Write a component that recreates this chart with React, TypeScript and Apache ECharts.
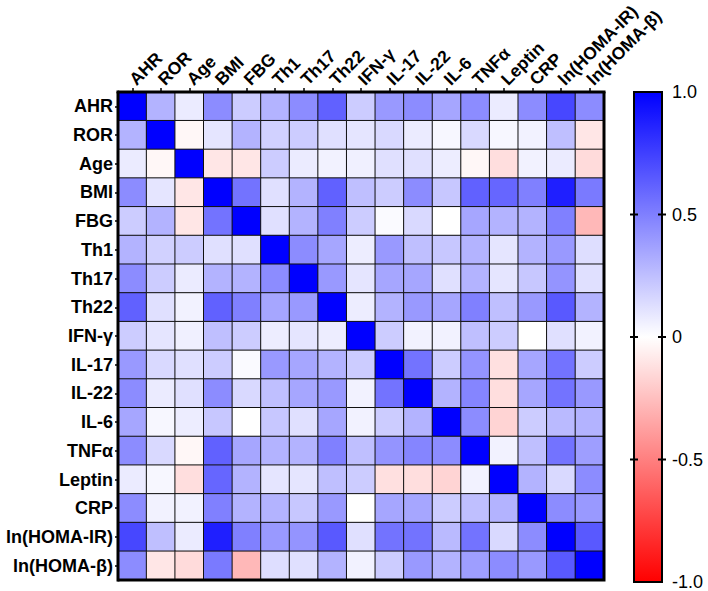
import React, { useEffect, useRef } from "react";
import * as echarts from "echarts";

const labels = [
  "AHR", "ROR", "Age", "BMI", "FBG", "Th1", "Th17", "Th22", "IFN-γ",
  "IL-17", "IL-22", "IL-6", "TNFα", "Leptin", "CRP", "ln(HOMA-IR)", "ln(HOMA-β)",
];

// correlation matrix, rows follow labels order
const rowAHR = [1, 0.30, 0.08, 0.45, 0.20, 0.30, 0.45, 0.62, 0.20, 0.40, 0.45, 0.35, 0.45, 0.08, 0.45, 0.72, 0.45];
const rowROR = [0.30, 1, -0.03, 0.10, 0.30, 0.18, 0.20, 0.12, 0.10, 0.15, 0.08, 0.03, 0.15, 0.03, 0.05, 0.25, -0.10];
const rowAge = [0.08, -0.03, 1, -0.10, -0.10, 0.20, 0.08, 0.05, 0.06, 0.12, 0.12, 0.07, -0.03, -0.13, 0.05, 0.08, -0.14];
const rowBMI = [0.45, 0.10, -0.10, 1, 0.55, 0.12, 0.30, 0.62, 0.25, 0.20, 0.45, 0.22, 0.62, 0.60, 0.50, 0.88, 0.52];
const rowFBG = [0.20, 0.30, -0.10, 0.55, 1, 0.12, 0.30, 0.50, 0.20, 0.02, 0.15, 0.00, 0.35, 0.30, 0.30, 0.50, -0.28];
const rowTh1 = [0.30, 0.18, 0.20, 0.12, 0.12, 1, 0.45, 0.35, 0.07, 0.40, 0.25, 0.22, 0.30, 0.10, 0.30, 0.40, 0.13];
const rowTh17 = [0.45, 0.20, 0.08, 0.30, 0.30, 0.45, 1, 0.40, 0.10, 0.35, 0.35, 0.12, 0.30, 0.10, 0.22, 0.42, 0.12];
const rowTh22 = [0.62, 0.12, 0.05, 0.62, 0.50, 0.35, 0.40, 1, 0.07, 0.30, 0.40, 0.35, 0.50, 0.25, 0.40, 0.65, 0.30];
const rowIFN = [0.20, 0.10, 0.06, 0.25, 0.20, 0.07, 0.10, 0.07, 1, 0.20, 0.05, 0.05, 0.25, 0.20, 0.00, 0.12, 0.05];
const rowIL17 = [0.40, 0.15, 0.12, 0.20, 0.02, 0.40, 0.35, 0.30, 0.20, 1, 0.55, 0.20, 0.42, -0.12, 0.35, 0.55, 0.20];
const rowIL22 = [0.45, 0.08, 0.12, 0.45, 0.15, 0.25, 0.35, 0.40, 0.05, 0.55, 1, 0.30, 0.48, -0.13, 0.35, 0.55, 0.40];
const rowIL6 = [0.35, 0.03, 0.07, 0.22, 0.00, 0.22, 0.12, 0.35, 0.05, 0.20, 0.30, 1, 0.45, -0.17, 0.20, 0.27, 0.30];
const rowTNF = [0.45, 0.15, -0.03, 0.62, 0.35, 0.30, 0.30, 0.50, 0.25, 0.42, 0.48, 0.45, 1, 0.05, 0.25, 0.55, 0.38];
const rowLeptin = [0.08, 0.03, -0.13, 0.60, 0.30, 0.10, 0.10, 0.25, 0.20, -0.12, -0.13, -0.17, 0.05, 1, 0.30, 0.15, 0.45];
const rowCRP = [0.45, 0.05, 0.05, 0.50, 0.30, 0.30, 0.22, 0.40, 0.00, 0.35, 0.35, 0.20, 0.25, 0.30, 1, 0.45, 0.40];
const rowIR = [0.72, 0.25, 0.08, 0.88, 0.50, 0.40, 0.42, 0.65, 0.12, 0.55, 0.55, 0.27, 0.55, 0.15, 0.45, 1, 0.65];
const rowBeta = [0.45, -0.10, -0.14, 0.52, -0.28, 0.13, 0.12, 0.30, 0.05, 0.20, 0.40, 0.30, 0.38, 0.45, 0.40, 0.65, 1];

const corr = [
  rowAHR, rowROR, rowAge, rowBMI, rowFBG, rowTh1, rowTh17, rowTh22, rowIFN,
  rowIL17, rowIL22, rowIL6, rowTNF, rowLeptin, rowCRP, rowIR, rowBeta,
];

const scaleTicks = [-1, -0.5, 0, 0.5, 1];
const innerTicks = [-0.5, 0, 0.5];

const FONT = "Liberation Sans, Arial, sans-serif";

export default function App() {
  const ref = useRef<HTMLDivElement>(null);
  useEffect(() => {
    if (!ref.current) return;
    const chart = echarts.init(ref.current, undefined, { renderer: "svg" });
    const data: [number, number, number][] = [];
    corr.forEach((row, i) => row.forEach((v, j) => data.push([j, i, v])));

    const GL = 118, GT = 92, GW = 486, GH = 488;
    const CL = 634, CW = 28, CT = 92, CH = 490;

    const gradient = new echarts.graphic.LinearGradient(0, 0, 0, 1, [
      { offset: 0, color: "#0000ff" },
      { offset: 0.5, color: "#ffffff" },
      { offset: 1, color: "#ff0000" },
    ]);

    chart.setOption({
      animation: false,
      backgroundColor: "#fff",
      grid: [
        { left: GL, top: GT, width: GW, height: GH, containLabel: false, outerBoundsMode: "none" },
        { left: CL, top: CT, width: CW, height: CH, containLabel: false, outerBoundsMode: "none" },
      ],
      xAxis: [
        {
          gridIndex: 0,
          type: "category",
          data: labels,
          position: "top",
          axisLine: { show: true, lineStyle: { color: "#000", width: 3 } },
          axisTick: { show: true, alignWithLabel: true, length: 4, lineStyle: { color: "#000", width: 1.5 } },
          axisLabel: {
            interval: 0, rotate: -45, margin: 10, color: "#000",
            fontFamily: FONT, fontWeight: "bold", fontSize: 17.5,
          },
          splitLine: { show: false },
        },
        {
          gridIndex: 1, type: "value", min: 0, max: 1, position: "bottom",
          axisLine: { show: false }, axisTick: { show: false }, axisLabel: { show: false }, splitLine: { show: false },
        },
      ],
      yAxis: [
        {
          gridIndex: 0,
          type: "category",
          data: labels,
          inverse: true,
          axisLine: { show: true, lineStyle: { color: "#000", width: 3 } },
          axisTick: { show: true, alignWithLabel: true, length: 3, lineStyle: { color: "#000", width: 1.5 } },
          axisLabel: {
            interval: 0, margin: 5, color: "#000",
            fontFamily: FONT, fontWeight: "bold", fontSize: 18,
          },
          splitLine: { show: false },
        },
        {
          gridIndex: 1,
          type: "value",
          min: -1,
          max: 1,
          interval: 0.5,
          position: "right",
          axisLine: { show: false },
          splitLine: { show: false },
          axisTick: { show: false },
          axisLabel: {
            show: true, margin: 10, color: "#000", fontFamily: FONT, fontSize: 18,
            customValues: scaleTicks,
            formatter: (v: number) => (v === 0 ? "0" : v.toFixed(1)),
          },
        },
      ],
      visualMap: {
        show: false,
        type: "continuous",
        min: -1,
        max: 1,
        seriesIndex: 0,
        inRange: { color: ["#ff0000", "#ffffff", "#0000ff"] },
      },
      series: [
        {
          type: "heatmap",
          xAxisIndex: 0,
          yAxisIndex: 0,
          data,
          itemStyle: { borderColor: "#111", borderWidth: 1 },
        },
      ],
    });

    // colour bar ticks placed through the colour-bar axis scale
    const tickEls: any[] = [];
    innerTicks.forEach((v) => {
      const y = chart.convertToPixel({ yAxisIndex: 1 }, v) as number;
      tickEls.push({
        type: "line", z: 110, silent: true,
        shape: { x1: CL - 4, y1: y, x2: CL + 4, y2: y },
        style: { stroke: "#000", lineWidth: 2 },
      });
      tickEls.push({
        type: "line", z: 110, silent: true,
        shape: { x1: CL + CW - 4, y1: y, x2: CL + CW + 4, y2: y },
        style: { stroke: "#000", lineWidth: 2 },
      });
    });

    chart.setOption({
      graphic: [
        {
          type: "rect",
          z: 100,
          shape: { x: GL, y: GT, width: GW, height: GH },
          style: { fill: "none", stroke: "#000", lineWidth: 3 },
          silent: true,
        },
        {
          type: "rect",
          z: 90,
          shape: { x: CL, y: CT, width: CW, height: CH },
          style: { fill: gradient, stroke: "#000", lineWidth: 2 },
          silent: true,
        },
        ...tickEls,
      ],
    });
    return () => chart.dispose();
  }, []);
  return (
    <div
      ref={ref}
      style={{ position: "fixed", left: 0, top: 0, width: 708, height: 591, background: "#fff" }}
    />
  );
}
